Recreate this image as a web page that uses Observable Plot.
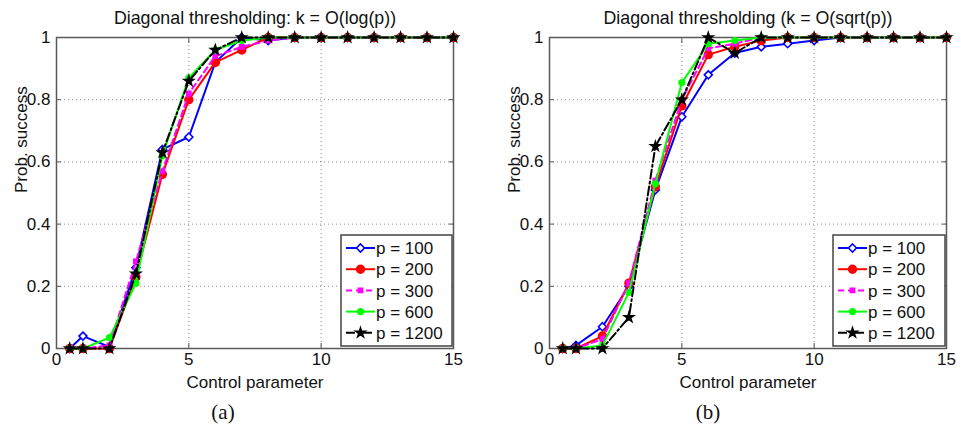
<!DOCTYPE html>
<html><head><meta charset="utf-8">
<script src="https://cdn.jsdelivr.net/npm/d3@7"></script>
<script src="https://cdn.jsdelivr.net/npm/@observablehq/plot@0.6"></script>
<style>
body{margin:0;background:#fff;}
#wrap{position:relative;width:956px;height:424px;font-family:"Liberation Sans",Arial,sans-serif;overflow:hidden;}
.panel{position:absolute;top:0;}
.panel svg{overflow:visible;}
.legend{position:absolute;}
</style></head><body><div id="wrap"></div>
<script>
// ---- data ----
const controlParam = [0.5, 1, 2, 3, 4, 5, 6, 7, 8, 9, 10, 11, 12, 13, 14, 15];
const seriesNames = ["p = 100", "p = 200", "p = 300", "p = 600", "p = 1200"];
const xTicks = [0, 5, 10, 15];
const yTicks = [0, 0.2, 0.4, 0.6, 0.8, 1];

// (a) k = O(log(p))
const logP100  = [0, 0.04, 0.005, 0.26, 0.64, 0.68, 0.92, 1, 0.99, 1, 1, 1, 1, 1, 1, 1];
const logP200  = [0, 0, 0, 0.23, 0.56, 0.80, 0.92, 0.96, 1, 1, 1, 1, 1, 1, 1, 1];
const logP300  = [0, 0, 0.01, 0.28, 0.57, 0.82, 0.94, 0.97, 0.99, 1, 1, 1, 1, 1, 1, 1];
const logP600  = [0, 0, 0.035, 0.21, 0.62, 0.87, 0.96, 0.99, 1, 1, 1, 1, 1, 1, 1, 1];
const logP1200 = [0, 0, 0, 0.24, 0.63, 0.86, 0.96, 1, 1, 1, 1, 1, 1, 1, 1, 1];

// (b) k = O(sqrt(p))
const sqrtP100  = [0, 0.01, 0.07, 0.20, 0.51, 0.745, 0.88, 0.95, 0.97, 0.98, 0.99, 1, 1, 1, 1, 1];
const sqrtP200  = [0, 0, 0.04, 0.21, 0.52, 0.78, 0.945, 0.97, 0.99, 1, 1, 1, 1, 1, 1, 1];
const sqrtP300  = [0, 0, 0.03, 0.21, 0.54, 0.80, 0.965, 0.98, 1, 1, 1, 1, 1, 1, 1, 1];
const sqrtP600  = [0, 0, 0.01, 0.18, 0.53, 0.855, 0.98, 0.99, 1, 1, 1, 1, 1, 1, 1, 1];
const sqrtP1200 = [0, 0, 0, 0.10, 0.65, 0.80, 1, 0.95, 1, 1, 1, 1, 1, 1, 1, 1];

// ---- styles ----
const styles = [
  {color: "#0000ff", dash: null, symbol: "diamond2", r: 3.6, fill: "#ffffff"},
  {color: "#ff0000", dash: null, symbol: "circle", r: 3.9, fill: "#ff0000"},
  {color: "#ff00ff", dash: "6,4", symbol: "square", r: 2.4, fill: "#ff00ff"},
  {color: "#00ff00", dash: null, symbol: "circle", r: 2.8, fill: "#00ff00"},
  {color: "#000000", dash: "9,3,2,3", symbol: "star", r: 2.9, fill: "#000000"}
];
const FONT = "Liberation Sans, Arial, sans-serif";
const symbolMap = {diamond2: d3.symbolDiamond2 || d3.symbolDiamond, square: d3.symbolSquare, star: d3.symbolStar, circle: d3.symbolCircle};

function makePanel(cfg) {
  const series = cfg.cols.map((vals, i) =>
    vals.map((v, j) => ({x: controlParam[j], y: v, s: seriesNames[i]})));
  const marks = [
    Plot.gridX([5, 10], {stroke: "#8a8a8a", strokeOpacity: 1, strokeWidth: 1, strokeDasharray: "1,3"}),
    Plot.gridY([0.2, 0.4, 0.6, 0.8], {stroke: "#8a8a8a", strokeOpacity: 1, strokeWidth: 1, strokeDasharray: "1,3"}),
    Plot.axisX(xTicks, {anchor: "bottom", tickSize: -5, tickPadding: 9, fontSize: 17, label: null, stroke: "#555"}),
    Plot.axisX(xTicks, {anchor: "top", tickSize: -5, tickFormat: () => "", label: null, stroke: "#555"}),
    Plot.axisY(yTicks, {anchor: "left", tickSize: -5, tickPadding: 11, fontSize: 17, label: null, stroke: "#555", tickFormat: d => d === 0 || d === 1 ? String(d) : d.toFixed(1)}),
    Plot.axisY(yTicks, {anchor: "right", tickSize: -5, tickFormat: () => "", label: null, stroke: "#555"}),
    Plot.frame({stroke: "#5a5a5a", strokeWidth: 1.5})
  ];
  series.forEach((rows, i) => {
    const st = styles[i];
    marks.push(Plot.line(rows, {x: "x", y: "y", stroke: st.color, strokeWidth: 2, strokeDasharray: st.dash, strokeLinejoin: "round"}));
    marks.push(Plot.dot(rows, {x: "x", y: "y", symbol: () => st.symbol, r: st.r, fill: st.fill, stroke: st.color, strokeWidth: 1.6}));
  });
  marks.push(
    Plot.text([cfg.title], {frameAnchor: "top", lineAnchor: "middle", dy: -19, text: d => d, fontSize: 17.8, fill: "#111"}),
    Plot.text(["Control parameter"], {frameAnchor: "bottom", lineAnchor: "middle", dy: 34, text: d => d, fontSize: 17, fill: "#111"}),
    Plot.text(["Prob. success"], {frameAnchor: "left", dx: -35, rotate: -90, text: d => d, fontSize: 17, fill: "#111"}),
    Plot.text([cfg.caption], {frameAnchor: "bottom", lineAnchor: "middle", dx: cfg.captionDx, dy: 64, text: d => d, fontSize: 21, fontFamily: "Liberation Serif, DejaVu Serif, serif", fill: "#111"})
  );
  const svg = Plot.plot({
    width: cfg.width, height: 424,
    marginLeft: cfg.ml, marginRight: cfg.mr, marginTop: 37, marginBottom: 76,
    style: {fontFamily: FONT, fontSize: "17px", color: "#111", background: "transparent"},
    x: {domain: [0, 15]},
    y: {domain: [0, 1]},
    symbol: {type: "identity"},
    marks
  });
  const div = document.createElement("div");
  div.className = "panel";
  div.style.left = cfg.left + "px";
  div.appendChild(svg);
  document.getElementById("wrap").appendChild(div);

  // legend (built from the series names and styles)
  const lw = cfg.legW, lh = 111;
  const leg = d3.create("svg").attr("class", "legend").attr("width", lw + 4).attr("height", lh + 4)
    .style("left", (cfg.legX - 2) + "px").style("top", (cfg.legY - 2) + "px");
  leg.append("rect").attr("x", 2).attr("y", 2).attr("width", lw).attr("height", lh)
    .attr("fill", "#fff").attr("stroke", "#444").attr("stroke-width", 1.5);
  seriesNames.forEach((name, i) => {
    const st = styles[i];
    const cy = 2 + 13 + i * 21.2;
    const g = leg.append("g");
    g.append("line").attr("x1", 7).attr("x2", 36).attr("y1", cy).attr("y2", cy)
      .attr("stroke", st.color).attr("stroke-width", 2).attr("stroke-dasharray", st.dash);
    g.append("path").attr("transform", `translate(21.5,${cy})`)
      .attr("d", d3.symbol(symbolMap[st.symbol], Math.PI * st.r * st.r)())
      .attr("fill", st.fill).attr("stroke", st.color).attr("stroke-width", 1.6);
    g.append("text").attr("x", 37).attr("y", cy).attr("dy", "0.36em")
      .attr("font-family", FONT).attr("font-size", 17).attr("fill", "#111").text(name);
  });
  document.getElementById("wrap").appendChild(leg.node());
}

makePanel({title: "Diagonal thresholding: k = O(log(p))", caption: "(a)",
  cols: [logP100, logP200, logP300, logP600, logP1200],
  left: 0, width: 478, ml: 56, mr: 25, captionDx: -32, legX: 341, legY: 235, legW: 111});
makePanel({title: "Diagonal thresholding (k = O(sqrt(p))", caption: "(b)",
  cols: [sqrtP100, sqrtP200, sqrtP300, sqrtP600, sqrtP1200],
  left: 478, width: 478, ml: 71, mr: 10, captionDx: -40, legX: 833, legY: 235, legW: 112});
</script></body></html>
